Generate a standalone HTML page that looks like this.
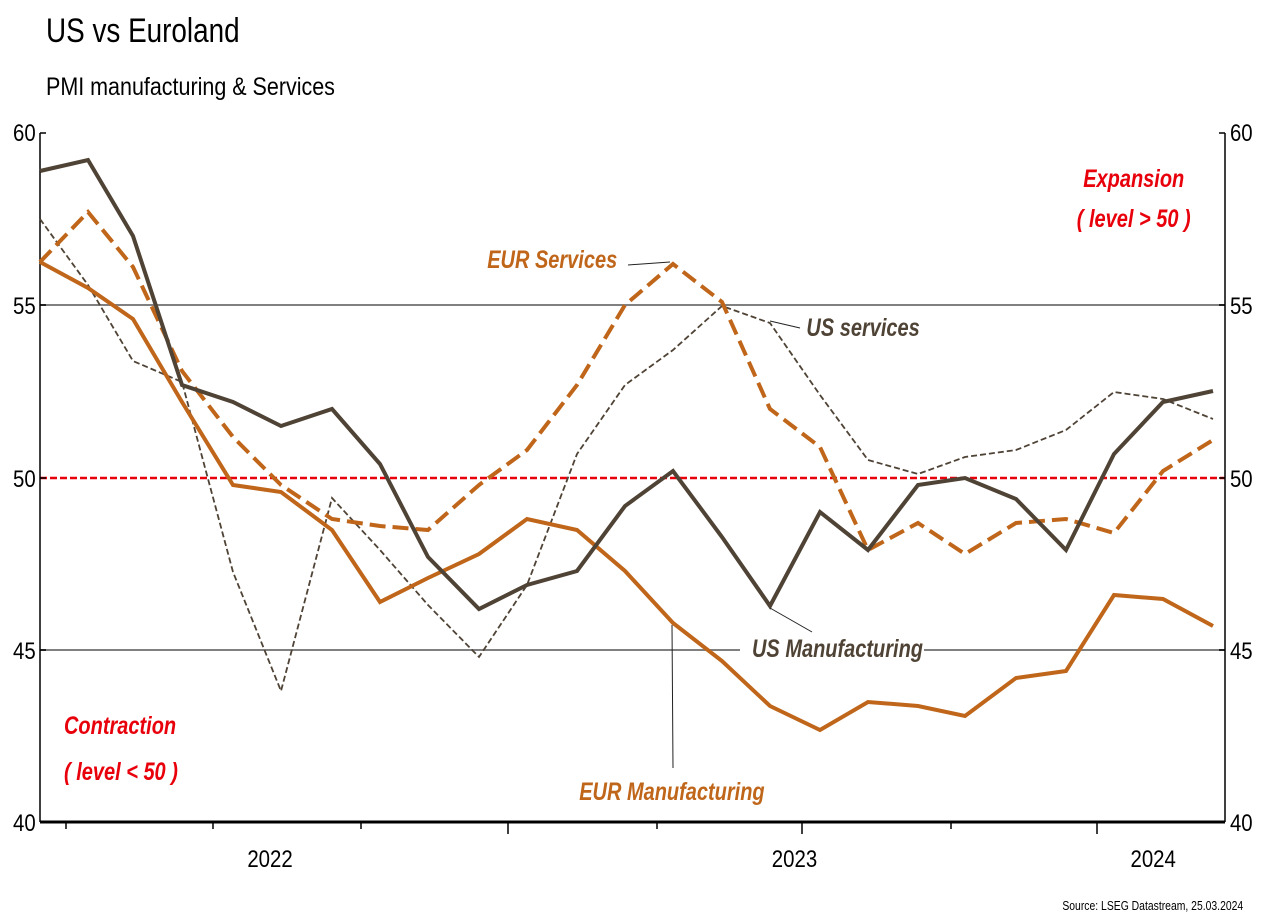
<!DOCTYPE html>
<html><head><meta charset="utf-8"><style>
body{margin:0;background:#fff;width:1269px;height:919px;overflow:hidden}
svg text{font-family:"Liberation Sans",sans-serif}
</style></head><body>
<svg width="1269" height="919" xmlns="http://www.w3.org/2000/svg">
<text x="46" y="42" font-size="34" transform="scale(0.82,1)" transform-origin="46 42">US vs Euroland</text>
<text x="46" y="95" font-size="25" transform="scale(0.86,1)" transform-origin="46 95">PMI manufacturing &amp; Services</text>
<line x1="40" y1="305" x2="1225" y2="305" stroke="#808080" stroke-width="2"/>
<line x1="40" y1="650" x2="1225" y2="650" stroke="#808080" stroke-width="2"/>
<line x1="40" y1="478" x2="1225" y2="478" stroke="#e8000b" stroke-width="2.5" stroke-dasharray="7,3"/>
<line x1="40" y1="133" x2="40" y2="822" stroke="#000" stroke-width="1.5"/>
<line x1="1225" y1="133" x2="1225" y2="822" stroke="#000" stroke-width="1.5"/>
<line x1="40" y1="822" x2="1225" y2="822" stroke="#000" stroke-width="3"/>
<g stroke="#000" stroke-width="1.5">
<line x1="40" y1="133" x2="46" y2="133"/><line x1="40" y1="305" x2="46" y2="305"/><line x1="40" y1="478" x2="46" y2="478"/><line x1="40" y1="650" x2="46" y2="650"/>
<line x1="1219" y1="133" x2="1225" y2="133"/><line x1="1219" y1="305" x2="1225" y2="305"/><line x1="1219" y1="478" x2="1225" y2="478"/><line x1="1219" y1="650" x2="1225" y2="650"/>
<line x1="66" y1="822" x2="66" y2="829"/><line x1="213" y1="822" x2="213" y2="829"/><line x1="361" y1="822" x2="361" y2="829"/><line x1="508" y1="822" x2="508" y2="834"/><line x1="657" y1="822" x2="657" y2="829"/><line x1="802" y1="822" x2="802" y2="834"/><line x1="951" y1="822" x2="951" y2="829"/><line x1="1097" y1="822" x2="1097" y2="834"/>
</g>
<g font-size="24" transform="scale(0.85,1)">
<g text-anchor="end">
<text x="42" y="141">60</text><text x="42" y="314">55</text><text x="42" y="487">50</text><text x="42" y="659">45</text><text x="42" y="831">40</text>
</g>
<text x="1447" y="141">60</text><text x="1447" y="314">55</text><text x="1447" y="487">50</text><text x="1447" y="659">45</text><text x="1447" y="831">40</text>
<text x="291" y="867">2022</text><text x="908" y="867">2023</text><text x="1330" y="867">2024</text>
</g>
<text x="1554" y="910" font-size="13" text-anchor="end" transform="scale(0.8,1)">Source: LSEG Datastream, 25.03.2024</text>
<polyline fill="none" stroke="#4f4336" stroke-width="1.8" stroke-dasharray="6,3" points="40,219 88,285 133,361 182,382 233,572 281,691 332,498 380,550 428,605 479,657 527,585 577,454 625,385 673,350 722,306 770,323 820,395 868,460 918,474 965,457 1016,450 1066,430 1114,392 1163,399 1213,419"/>
<polyline fill="none" stroke="#c0661a" stroke-width="4" stroke-dasharray="16,7" points="40,262 88,212 133,267 182,371 233,437 281,485 332,519 380,526 428,530 479,485 527,450 577,385 625,305 673,264 722,302 770,409 820,447 868,550 918,523 965,554 1016,523 1066,519 1114,533 1163,471 1213,440"/>
<polyline fill="none" stroke="#c0661a" stroke-width="4" points="40,262 88,288 133,319 182,402 233,485 281,492 332,530 380,602 428,578 479,554 527,519 577,530 625,571 673,623 722,661 770,706 820,730 868,702 918,706 965,716 1016,678 1066,671 1114,595 1163,599 1213,626"/>
<polyline fill="none" stroke="#4f4336" stroke-width="4" points="40,171 88,160 133,236 182,385 233,402 281,426 332,409 380,464 428,557 479,609 527,585 577,571 625,506 673,471 722,537 770,606 820,512 868,550 918,485 965,478 1016,499 1066,550 1114,454 1163,402 1213,391"/>
<g font-size="25" font-style="italic" font-weight="bold" transform="scale(0.8,1)">
<text x="1354" y="187" fill="#e8000b">Expansion</text>
<text x="1346" y="227" fill="#e8000b">( level &gt; 50 )</text>
<text x="80" y="734" fill="#e8000b">Contraction</text>
<text x="80" y="780" fill="#e8000b">( level &lt; 50 )</text>
<text x="609" y="268" fill="#c0661a">EUR Services</text>
<text x="1008" y="336" fill="#4f4336">US services</text>
<rect x="925" y="628" width="230" height="40" fill="#fff"/>
<text x="940" y="657" fill="#4f4336">US Manufacturing</text>
<rect x="715" y="770" width="240" height="40" fill="#fff"/>
<text x="724" y="800" fill="#c0661a">EUR Manufacturing</text>
</g>
<g stroke="#222" stroke-width="1">
<line x1="628" y1="265" x2="670" y2="262"/>
<line x1="770" y1="321" x2="800" y2="328"/>
<line x1="770" y1="608" x2="812" y2="632"/>
<line x1="672" y1="625" x2="673" y2="768"/>
</g>
</svg>
</body></html>
